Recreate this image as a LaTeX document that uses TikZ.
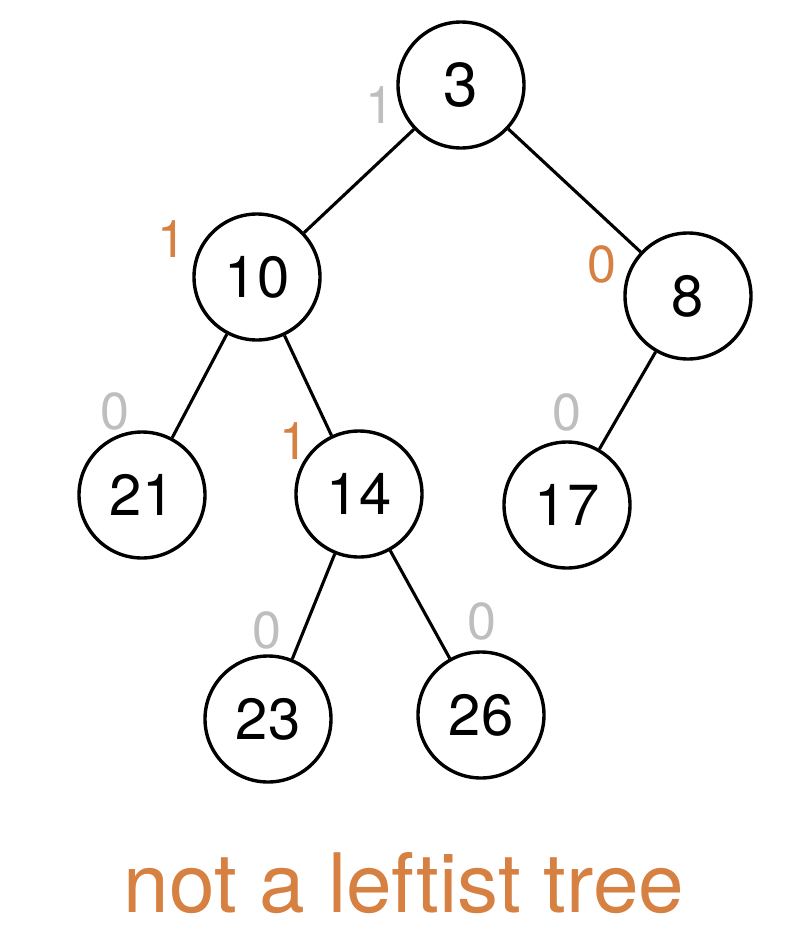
\documentclass[tikz,border=0pt]{standalone}
\usepackage{fontspec}
\setmainfont{TeX Gyre Heros}
\definecolor{rankorange}{RGB}{214,128,66}
\definecolor{rankgray}{RGB}{190,190,190}
\begin{document}
\begin{tikzpicture}[x=1pt,y=-1pt,
  heapnode/.style={circle,draw=black,line width=3.4pt,minimum size=126pt,inner sep=0pt,
    font=\fontsize{58}{60}\selectfont},
  treeedge/.style={line width=3.1pt,black},
  rankgray/.style={text=rankgray,inner sep=0pt,font=\fontsize{52}{54}\selectfont},
  rankorange/.style={text=rankorange,inner sep=0pt,font=\fontsize{52}{54}\selectfont}]
\useasboundingbox (0,0) rectangle (794,948);
\fill[white] (0,0) rectangle (794,948);

% heap nodes
\node[heapnode,font=\fontsize{62}{64}\selectfont] (n3) at (461,85) {3};
\node[heapnode] (n10) at (257,277) {10};
\node[heapnode] (n8) at (688,296) {8};
\node[heapnode] (n21) at (142,495) {21};
\node[heapnode] (n14) at (359,494) {14};
\node[heapnode] (n17) at (567,505) {17};
\node[heapnode] (n23) at (268,719) {23};
\node[heapnode] (n26) at (481,715) {26};

% tree edges
\draw[treeedge] (n3) -- (n10);
\draw[treeedge] (n3) -- (n8);
\draw[treeedge] (n10) -- (n21);
\draw[treeedge] (n10) -- (n14);
\draw[treeedge] (n8) -- (n17);
\draw[treeedge] (n14) -- (n23);
\draw[treeedge] (n14) -- (n26);

% null path lengths
\node[rankgray] (r3) at (380,105) {1};
\node[rankorange] (r10) at (172,239) {1};
\node[rankorange] (r8) at (602,264) {0};
\node[rankgray] (r21) at (115,411) {0};
\node[rankorange] (r14) at (294,441) {1};
\node[rankgray] (r17) at (567,412) {0};
\node[rankgray] (r23) at (267,630) {0};
\node[rankgray] (r26) at (482,621) {0};

% caption
\node[text=rankorange,inner sep=0pt,anchor=base,font=\fontsize{82}{86}\selectfont] (cap) at (404,912) {not a leftist tree};
\end{tikzpicture}
\end{document}
